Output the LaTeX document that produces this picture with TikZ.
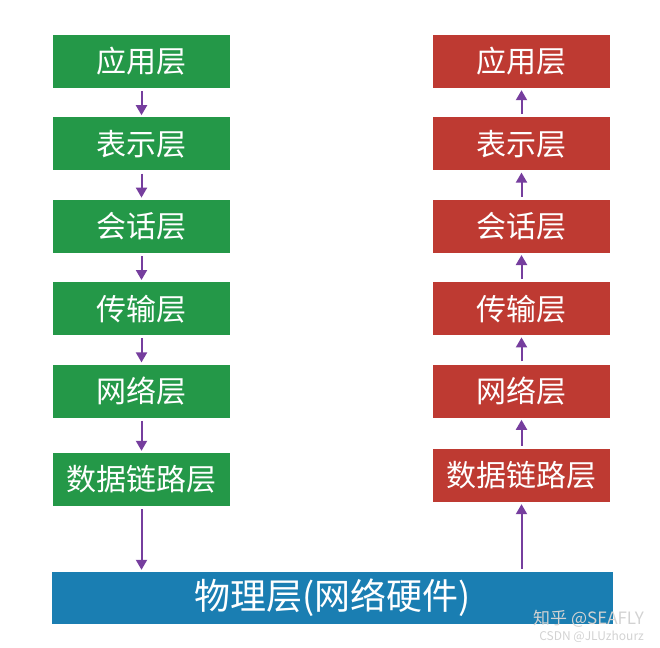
\documentclass[tikz,border=0pt]{standalone}
\usepackage{fontspec}
\newfontfamily\cjk{Noto Sans CJK SC}
\usetikzlibrary{positioning,arrows.meta}
\definecolor{sendgreen}{RGB}{36,152,72}
\definecolor{recvred}{RGB}{190,58,50}
\definecolor{phyblue}{RGB}{26,126,178}
\definecolor{flowpurple}{RGB}{118,62,158}

\begin{document}
\begin{tikzpicture}[x=1pt, y=1pt, node distance=29pt,
  layer/.style={minimum width=177pt, minimum height=53pt, inner sep=0pt, text=white, font=\cjk\fontsize{30}{32}\selectfont},
  flow/.style={draw=flowpurple, line width=2pt, shorten <=3pt, shorten >=2pt, -{Triangle[width=11pt,length=10pt]}},
  wmtext/.style={inner sep=0pt, text=gray!35, anchor=east}]
\useasboundingbox (0,0) rectangle (660,-647);
% sending side
\node[layer, fill=sendgreen] (s7) at (141.5,-61.5) {应用层};
\node[layer, fill=sendgreen, below=of s7] (s6) {表示层};
\node[layer, fill=sendgreen, below=of s6] (s5) {会话层};
\node[layer, fill=sendgreen, below=of s5] (s4) {传输层};
\node[layer, fill=sendgreen, below=of s4] (s3) {网络层};
\node[layer, fill=sendgreen, below=35pt of s3] (s2) {数据链路层};
% receiving side
\node[layer, fill=recvred] (r7) at (521.5,-61.5) {应用层};
\node[layer, fill=recvred, below=of r7] (r6) {表示层};
\node[layer, fill=recvred, below=of r6] (r5) {会话层};
\node[layer, fill=recvred, below=of r5] (r4) {传输层};
\node[layer, fill=recvred, below=of r4] (r3) {网络层};
\node[layer, fill=recvred, below=31pt of r3] (r2) {数据链路层};
% physical layer
\node[layer, fill=phyblue, minimum width=561pt, minimum height=52pt, font=\cjk\fontsize{36}{38}\selectfont] (phy) at (332.5,-598) {物理层(网络硬件)};
\foreach \i/\j in {s7/s6,s6/s5,s5/s4,s4/s3,s3/s2,r6/r7,r5/r6,r4/r5,r3/r4,r2/r3}{\draw[flow] (\i) -- (\j);}
\draw[flow] (s2) -- (s2 |- phy.north);
\draw[flow] (r2 |- phy.north) -- (r2);
\node[wmtext, font=\cjk\fontsize{17}{17}\selectfont] (zhihu) at (644,-619) {知乎 @SEAFLY};
\node[wmtext, font=\cjk\fontsize{12}{12}\selectfont, below=3pt of zhihu.south east, anchor=north east] (csdn) {CSDN @JLUzhourz};
\end{tikzpicture}
\end{document}
